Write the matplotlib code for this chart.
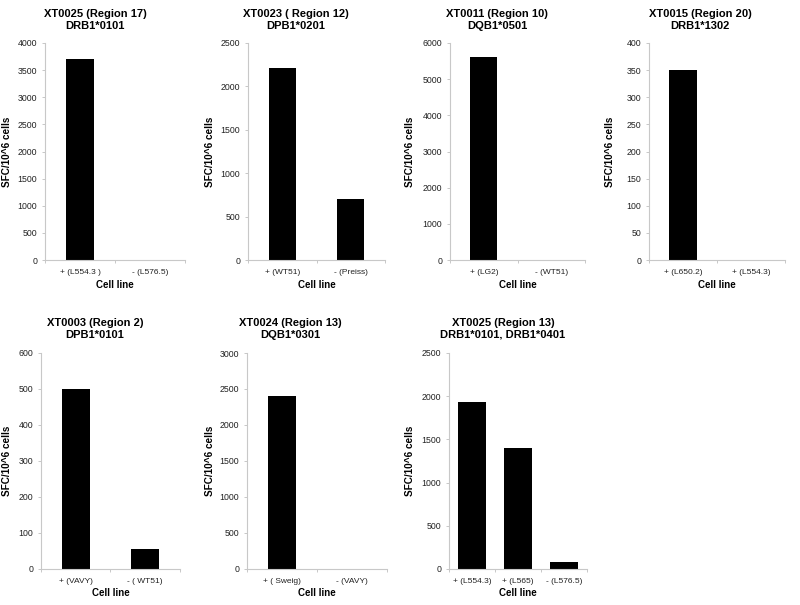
import numpy as np
import matplotlib
matplotlib.use('Agg')
import matplotlib.pyplot as plt
from matplotlib.ticker import MultipleLocator, FixedLocator

plt.rcParams['font.family'] = ['Liberation Sans', 'DejaVu Sans']

# data for each panel
titles = ['XT0025 (Region 17)\nDRB1*0101',
          'XT0023 ( Region 12)\nDPB1*0201',
          'XT0011 (Region 10)\nDQB1*0501',
          'XT0015 (Region 20)\nDRB1*1302',
          'XT0003 (Region 2)\nDPB1*0101',
          'XT0024 (Region 13)\nDQB1*0301',
          'XT0025 (Region 13)\nDRB1*0101, DRB1*0401']
cell_lines = [['+ (L554.3 )', '- (L576.5)'],
              ['+ (WT51)', '- (Preiss)'],
              ['+ (LG2)', '- (WT51)'],
              ['+ (L650.2)', '+ (L554.3)'],
              ['+ (VAVY)', '- ( WT51)'],
              ['+ ( Sweig)', '- (VAVY)'],
              ['+ (L554.3)', '+ (L565)', '- (L576.5)']]
sfc = [[3700, 0],
       [2210, 700],
       [5600, 0],
       [350, 0],
       [500, 55],
       [2400, 0],
       [1930, 1400, 80]]
ymax = [4000, 2500, 6000, 400, 600, 3000, 2500]
ystep = [500, 500, 1000, 50, 100, 500, 500]

# axes boxes in pixels: left, top, right, bottom
boxes = [(45, 43, 185, 260), (248, 43, 385, 260), (450, 43, 585, 260), (649, 43, 785, 260),
         (41, 353, 180, 569), (247, 353, 387, 569), (449, 353, 587, 569)]
# y label centre x and title centre (x, y) in pixels
ylab_x = [12, 215, 415, 615, 12, 215, 415]
title_xy = [(95, 20), (296, 20), (497, 20), (700, 20), (95, 329), (290, 329), (503, 329)]

W, H = 800, 605
fig = plt.figure(figsize=(8, 6.05), dpi=100)
gray = '#c8c8c8'

for i in range(7):
    l, t, r, b = boxes[i]
    ax = fig.add_axes([l / W, 1 - b / H, (r - l) / W, (b - t) / H])
    n = len(sfc[i])
    x = np.arange(n) + 0.5
    bw = 0.4 if n == 2 else 0.6
    ax.bar(x, sfc[i], width=bw, color='black')
    ax.set_xlim(0, n)
    ax.set_ylim(0, ymax[i])
    ax.yaxis.set_major_locator(MultipleLocator(ystep[i]))
    ax.xaxis.set_major_locator(FixedLocator(np.arange(n + 1)))
    ax.xaxis.set_minor_locator(FixedLocator(x))
    ax.set_xticklabels([], minor=False)
    ax.set_xticklabels(cell_lines[i], minor=True, fontsize=6, color='#222222')
    ax.tick_params(axis='x', which='minor', length=0, pad=6.5)
    ax.tick_params(axis='x', which='major', length=2, color=gray, width=0.7)
    ax.tick_params(axis='y', length=2.5, color=gray, width=0.7, labelsize=6.3, pad=3,
                   labelcolor='#222222')
    for s in ['top', 'right']:
        ax.spines[s].set_visible(False)
    for s in ['left', 'bottom']:
        ax.spines[s].set_color(gray)
        ax.spines[s].set_linewidth(0.8)
    tx, ty = title_xy[i]
    fig.text(tx / W, 1 - ty / H, titles[i], fontsize=8, fontweight='bold',
             ha='center', va='center', multialignment='center', linespacing=1.2)
    ax.set_ylabel('SFC/10^6 cells', fontsize=7.2, fontweight='bold')
    ax.yaxis.set_label_coords((ylab_x[i] - l) / (r - l), 0.5)
    ax.set_xlabel('Cell line', fontsize=7, fontweight='bold', labelpad=2.5)

fig.savefig('out.png', dpi=100, facecolor='white')
